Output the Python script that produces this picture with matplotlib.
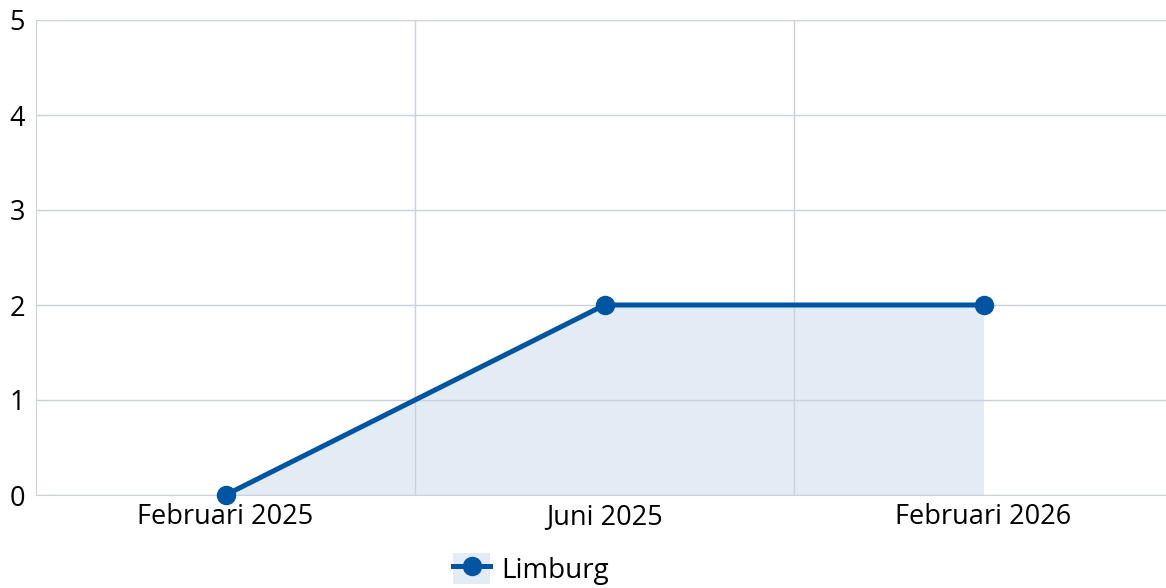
import matplotlib
matplotlib.use("Agg")
import matplotlib.pyplot as plt
from matplotlib.lines import Line2D
from matplotlib.patches import Patch
from matplotlib.legend_handler import HandlerTuple

categories = ["Februari 2025", "Juni 2025", "Februari 2026"]
limburg = [0, 2, 2]
series_name = "Limburg"

LINE = "#0055a2"
FILL = "#e3ebf5"
GRID = "#c9d1dd"

plt.rcParams["font.family"] = ["Open Sans", "DejaVu Sans"]

fig = plt.figure(figsize=(11.66, 5.88), dpi=100)
W, H = 1166, 588
ax = fig.add_axes([36 / W, (H - 495) / H, (1166 - 36) / W, (495 - 20) / H])

x = list(range(len(categories)))
ax.fill_between(x, limburg, 0, color=FILL, linewidth=0, zorder=0.5)
ax.plot(x, limburg, color=LINE, linewidth=3.6, marker="o", markersize=13,
        zorder=3, clip_on=False)

ax.set_xlim(-0.5, -0.5 + (1166 - 36) / 379)
ax.set_ylim(0, 5)
ax.set_yticks(range(6))
ax.set_xticks(x)
ax.set_xticklabels(categories)
ax.set_xticks([0.5, 1.5], minor=True)
ax.grid(True, which="major", axis="y", color=GRID, linewidth=1, zorder=1)
ax.grid(True, which="minor", axis="x", color=GRID, linewidth=1, zorder=1)
ax.tick_params(which="both", length=0, labelsize=19.5, colors="black")
ax.tick_params(axis="y", pad=8)
ax.tick_params(axis="x", pad=6)
for s in ("top", "right"):
    ax.spines[s].set_visible(False)
for s in ("left", "bottom"):
    ax.spines[s].set_color(GRID)
    ax.spines[s].set_zorder(1.5)

handle = (Patch(facecolor=FILL, edgecolor="none"),
          Line2D([], [], color=LINE, linewidth=3.6, marker="o", markersize=13))
fig.legend([handle], [series_name], handler_map={tuple: HandlerTuple(ndivide=1)},
           loc="center", bbox_to_anchor=(531 / W, (H - 569) / H), frameon=False,
           fontsize=20, handlelength=1.35, handleheight=1.3, handletextpad=0.4)

fig.savefig("out.png", dpi=100)
